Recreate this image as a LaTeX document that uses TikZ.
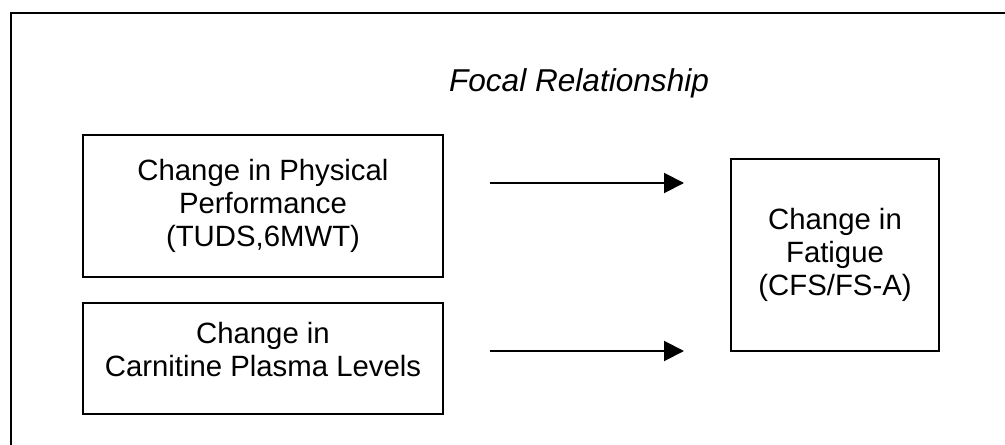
\documentclass[tikz,border=0pt]{standalone}
\usepackage{fontspec}
\setmainfont{Liberation Sans}
\usetikzlibrary{arrows.meta}

\begin{document}
\begin{tikzpicture}[x=0.75pt,y=-0.75pt,
  box/.style={rectangle,draw,line width=1.5pt,align=center,font=\fontsize{22}{24.5}\selectfont},
  link/.style={-{Triangle[length=15pt,width=15pt]},line width=1.5pt}]
\useasboundingbox (0,0) rectangle (1005,445);
% open frame, only top and left sides show
\draw[line width=1.5pt] (11,445) -- (11,13) -- (1005,13);
\node (title) at (579,83) [font=\fontsize{23.7}{27}\selectfont\itshape] {Focal Relationship};
\node[box,minimum width=270pt,minimum height=106.5pt] (perf) at (263,206) {Change in Physical\\Performance\\(TUDS,6MWT)};
\node[box,minimum width=270pt,minimum height=83.25pt] (carn) at (263,358.5) {Change in\\Carnitine Plasma Levels\\[-11pt]\mbox{}};
\node[box,minimum width=156pt,minimum height=144pt] (fatig) at (835,255) {Change in\\Fatigue\\(CFS/FS-A)};
% arrows stop short of the boxes
\coordinate (p1) at (490,183);
\coordinate (q1) at (684,183);
\coordinate (p2) at (490,351);
\coordinate (q2) at (684,351);
\draw[link] (p1) -- (q1);
\draw[link] (p2) -- (q2);
\end{tikzpicture}
\end{document}
